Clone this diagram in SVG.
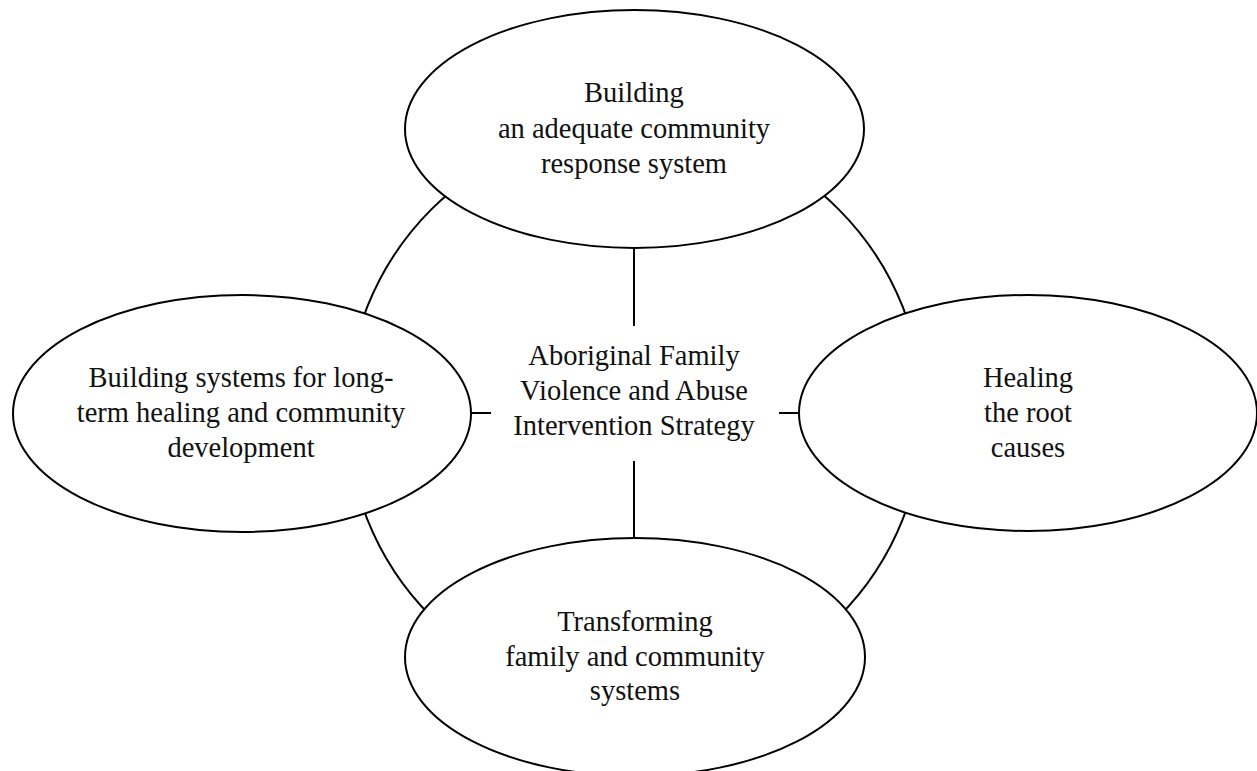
<svg xmlns="http://www.w3.org/2000/svg" width="1257" height="771" viewBox="0 0 1257 771">
<style>
.shape{fill:#fff;stroke:#000;stroke-width:2}
.ring{fill:none;stroke:#000;stroke-width:2}
.conn line{stroke:#000;stroke-width:2}
text{font-family:"Liberation Serif","Times New Roman",serif;font-size:28.5px;fill:#111;text-anchor:middle}
</style>
<rect width="1257" height="771" fill="#fff"/>
<circle id="ring" class="ring" cx="635" cy="413" r="288"/>
<g id="connectors" class="conn">
<line x1="634" y1="248" x2="634" y2="326"/>
<line x1="634" y1="461" x2="634" y2="538"/>
<line x1="471" y1="413" x2="491" y2="413"/>
<line x1="779" y1="413" x2="799" y2="413"/>
</g>
<g id="center">
<text x="634" y="365">Aboriginal Family</text>
<text x="634" y="400">Violence and Abuse</text>
<text x="634" y="435">Intervention Strategy</text>
</g>
<g id="top">
<ellipse class="shape" cx="634.5" cy="129" rx="229.5" ry="119"/>
<text x="634" y="102">Building</text>
<text x="634" y="138">an adequate community</text>
<text x="634" y="173">response system</text>
</g>
<g id="left">
<ellipse class="shape" cx="242" cy="413.5" rx="229" ry="118.5"/>
<text x="241" y="387">Building systems for long-</text>
<text x="241" y="422">term healing and community</text>
<text x="241" y="457">development</text>
</g>
<g id="right">
<ellipse class="shape" cx="1028" cy="413" rx="229" ry="118"/>
<text x="1028" y="387">Healing</text>
<text x="1028" y="422">the root</text>
<text x="1028" y="457">causes</text>
</g>
<g id="bottom">
<ellipse class="shape" cx="635" cy="657" rx="230" ry="119"/>
<text x="635" y="631">Transforming</text>
<text x="635" y="666">family and community</text>
<text x="635" y="700">systems</text>
</g>
</svg>
